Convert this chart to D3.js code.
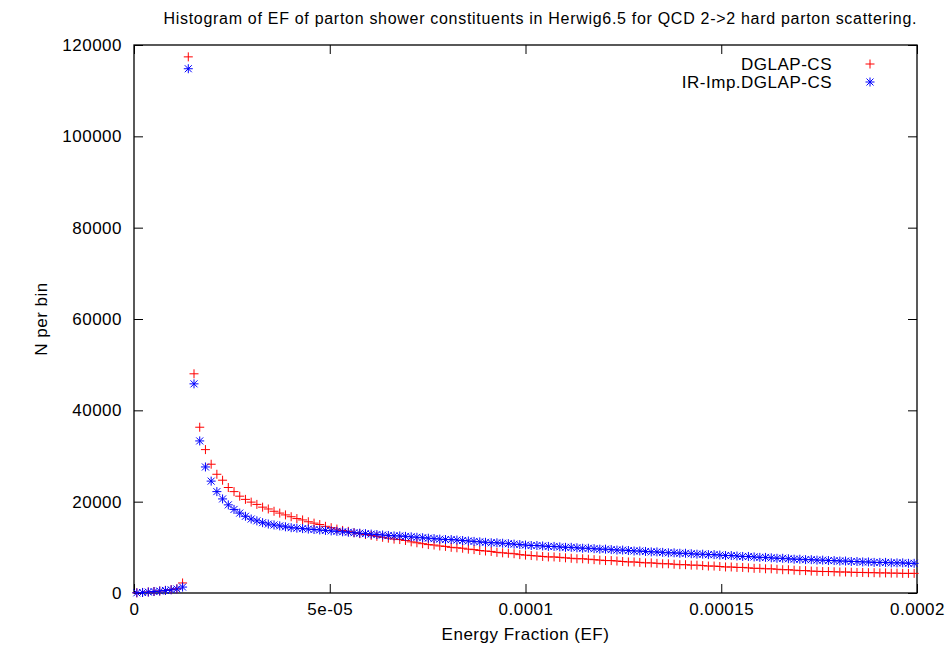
<!DOCTYPE html>
<html>
<head>
<meta charset="utf-8">
<script src="https://cdn.jsdelivr.net/npm/d3@7"></script>
<style>
  html, body { margin: 0; padding: 0; background: #fff; overflow: hidden; }
  svg { display: block; }
  svg text { font-family: "Liberation Sans", Arial, sans-serif; fill: #000; }
</style>
</head>
<body>
<div id="chart"></div>
<script>
// histogram bin width in EF, points sit at bin centres
const binWidth = 0.0002 / 137;

const dglapCS = [
  50, 120, 230, 330, 450, 580, 740, 930, 2200, 117400,
  48000, 36300, 31400, 28200, 26000, 24700, 23100, 22200, 21200, 20500,
  19900, 19400, 18800, 18400, 17900, 17500, 17100, 16700, 16300, 16000,
  15600, 15300, 15000, 14600, 14300, 14000, 13700, 13500, 13200, 13000,
  12800, 12600, 12400, 12200, 12000, 11800, 11700, 11500, 11200, 11000,
  10800, 10600, 10500, 10300, 10200, 10000, 9900, 9800, 9600, 9500,
  9300, 9200, 9100, 8900, 8800, 8700, 8600, 8400, 8300, 8200,
  8100, 8000, 7900, 7900, 7800, 7700, 7600, 7500, 7500, 7400,
  7300, 7200, 7100, 7100, 7000, 6900, 6800, 6800, 6700, 6600,
  6600, 6500, 6400, 6400, 6300, 6200, 6200, 6100, 6100, 6000,
  5900, 5900, 5800, 5700, 5700, 5600, 5600, 5500, 5400, 5400,
  5300, 5300, 5200, 5100, 5100, 5000, 4900, 4900, 4800, 4750,
  4700, 4700, 4650, 4600, 4600, 4550, 4500, 4500, 4450, 4450,
  4400, 4400, 4350, 4350, 4300, 4300, 4300,
];

const irImpDglapCS = [
  40, 110, 210, 320, 430, 560, 700, 880, 1300, 114800,
  45800, 33300, 27600, 24500, 22200, 20600, 19300, 18300, 17500, 16800,
  16200, 15800, 15400, 15100, 14900, 14700, 14500, 14300, 14200, 14100,
  14000, 13900, 13800, 13700, 13600, 13500, 13400, 13300, 13200, 13100,
  13000, 12900, 12800, 12700, 12600, 12500, 12500, 12400, 12300, 12200,
  12100, 12000, 11900, 11800, 11700, 11700, 11600, 11500, 11400, 11300,
  11200, 11100, 11000, 11000, 10900, 10800, 10700, 10600, 10500, 10400,
  10400, 10300, 10200, 10200, 10100, 10000, 10000, 9900, 9800, 9800,
  9700, 9600, 9600, 9500, 9400, 9400, 9300, 9200, 9200, 9100,
  9000, 9000, 8900, 8800, 8800, 8700, 8700, 8600, 8500, 8500,
  8400, 8400, 8300, 8200, 8200, 8100, 8000, 8000, 7900, 7800,
  7800, 7700, 7600, 7600, 7500, 7400, 7400, 7300, 7300, 7200,
  7200, 7100, 7100, 7000, 7000, 6900, 6900, 6800, 6800, 6700,
  6700, 6700, 6600, 6600, 6600, 6500, 6500,
];

const xTicks = [0, 0.00005, 0.0001, 0.00015, 0.0002];
const xTickLabels = ["0", "5e-05", "0.0001", "0.00015", "0.0002"];
const yTicks = [0, 20000, 40000, 60000, 80000, 100000, 120000];

const seriesNames = ["DGLAP-CS", "IR-Imp.DGLAP-CS"];
const seriesColors = ["#ff0000", "#0000ff"];

const width = 951;
const height = 653;
const margin = { top: 45, right: 34, bottom: 60, left: 134 };
const innerWidth = width - margin.left - margin.right;
const innerHeight = height - margin.top - margin.bottom;
const fontSize = 17;
const spacing = "0.5px";

const svg = d3.select("#chart").append("svg").attr("width", width).attr("height", height);

const x = d3.scaleLinear().domain([0, 0.0002]).range([margin.left, margin.left + innerWidth]);
const y = d3.scaleLinear().domain([0, 120000]).range([margin.top + innerHeight, margin.top]);

const plusPath = "M-4.5,0H4.5M0,-4.5V4.5";
const starPath = "M-4.5,0H4.5M0,-4.5V4.5M-3.5,-3.5L3.5,3.5M-3.5,3.5L3.5,-3.5";

// ticks point inward, mirrored on top and right
const tickLen = 9;
svg.append("g").attr("transform", `translate(0,${margin.top + innerHeight})`)
  .call(d3.axisBottom(x).tickValues(xTicks).tickSize(-tickLen).tickPadding(10).tickFormat((d, i) => xTickLabels[i]))
  .call((g) => g.select(".domain").remove());
svg.append("g").attr("transform", `translate(0,${margin.top})`)
  .call(d3.axisTop(x).tickValues(xTicks).tickSize(-tickLen).tickFormat(() => ""))
  .call((g) => g.select(".domain").remove());
svg.append("g").attr("transform", `translate(${margin.left},0)`)
  .call(d3.axisLeft(y).tickValues(yTicks).tickSize(-tickLen).tickPadding(12).tickFormat(d3.format("d")))
  .call((g) => g.select(".domain").remove());
svg.append("g").attr("transform", `translate(${margin.left + innerWidth},0)`)
  .call(d3.axisRight(y).tickValues(yTicks).tickSize(-tickLen).tickFormat(() => ""))
  .call((g) => g.select(".domain").remove());

svg.selectAll(".tick line").attr("stroke", "#000").attr("stroke-width", 1);
svg.selectAll(".tick text")
  .attr("font-size", fontSize)
  .attr("letter-spacing", spacing)
  .attr("font-family", "Liberation Sans, Arial, sans-serif");

svg.append("rect")
  .attr("x", margin.left).attr("y", margin.top)
  .attr("width", innerWidth).attr("height", innerHeight)
  .attr("fill", "none").attr("stroke", "#000").attr("stroke-width", 1.3);

const plot = svg.append("g");
[dglapCS, irImpDglapCS].forEach((values, si) => {
  plot.append("g")
    .selectAll("path")
    .data(values)
    .enter()
    .append("path")
    .attr("transform", (d, i) => `translate(${x((i + 0.5) * binWidth)},${y(d)})`)
    .attr("d", si === 0 ? plusPath : starPath)
    .attr("fill", "none")
    .attr("stroke", seriesColors[si])
    .attr("stroke-width", 1);
});

// legend
const legend = svg.append("g");
seriesNames.forEach((name, i) => {
  const ly = 64 + i * 18;
  legend.append("text").attr("x", 832).attr("y", ly).attr("dy", "0.35em").attr("text-anchor", "end")
    .attr("font-size", fontSize).attr("letter-spacing", spacing).text(name);
  legend.append("path").attr("transform", `translate(870,${ly})`).attr("d", i === 0 ? plusPath : starPath)
    .attr("fill", "none").attr("stroke", seriesColors[i]).attr("stroke-width", 1);
});

svg.append("text")
  .attr("x", 540).attr("y", 24)
  .attr("text-anchor", "middle")
  .attr("font-size", 16)
  .attr("textLength", 753)
  .attr("lengthAdjust", "spacing")
  .text("Histogram of EF of parton shower constituents in Herwig6.5 for QCD 2->2 hard parton scattering.");

svg.append("text")
  .attr("x", margin.left + innerWidth / 2).attr("y", 640)
  .attr("text-anchor", "middle")
  .attr("font-size", fontSize)
  .attr("letter-spacing", spacing)
  .text("Energy Fraction (EF)");

svg.append("text")
  .attr("x", 47).attr("y", margin.top + innerHeight / 2)
  .attr("text-anchor", "middle")
  .attr("transform", `rotate(-90,47,${margin.top + innerHeight / 2})`)
  .attr("font-size", fontSize)
  .attr("letter-spacing", spacing)
  .text("N per bin");
</script>
</body>
</html>
